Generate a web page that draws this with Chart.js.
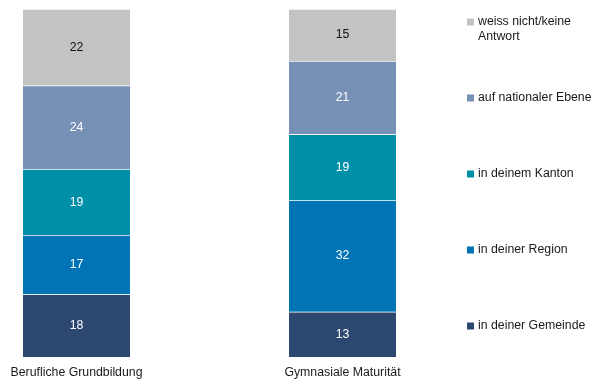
<!DOCTYPE html>
<html lang="de">
<head>
<meta charset="UTF-8">
<title>Ebene</title>
<script src="https://cdn.jsdelivr.net/npm/chart.js@4/dist/chart.umd.min.js"></script>
<style>
  html, body { margin: 0; padding: 0; background: #fff; }
  #wrap { width: 605px; height: 382px; position: relative; }
</style>
</head>
<body>
<div id="wrap"><canvas id="chart"></canvas></div>
<script>
// Kategorien und Werte (in %), von unten nach oben gestapelt
var categories = ['Berufliche Grundbildung', 'Gymnasiale Maturität'];
var seriesNames = [
  'in deiner Gemeinde',
  'in deiner Region',
  'in deinem Kanton',
  'auf nationaler Ebene',
  ['weiss nicht/keine', 'Antwort']
];
var gemeinde = [18, 13];
var region = [17, 32];
var kanton = [19, 19];
var national = [24, 21];
var weissNicht = [22, 15];
var colors = ['#2C4871', '#0074B4', '#008FA8', '#7790B5', '#C3C3C3'];
var labelColors = ['#fff', '#fff', '#fff', '#fff', '#111'];

var font = { family: 'Liberation Sans, Arial, sans-serif', size: 12.3 };

var values = [gemeinde, region, kanton, national, weissNicht];
var datasets = values.map(function (v, i) {
  return {
    label: seriesNames[i],
    data: v,
    backgroundColor: colors[i],
    borderColor: 'rgba(255,255,255,0.35)',
    borderWidth: { top: 1, right: 0, bottom: 0, left: 0 },
    borderSkipped: 'bottom',
    barThickness: 107,
    clip: false
  };
});

// Werte in die Segmente schreiben
var valueLabels = {
  id: 'valueLabels',
  afterDatasetsDraw: function (chart) {
    var ctx = chart.ctx;
    ctx.save();
    ctx.font = font.size + 'px ' + font.family;
    ctx.textAlign = 'center';
    ctx.textBaseline = 'middle';
    chart.data.datasets.forEach(function (ds, i) {
      var meta = chart.getDatasetMeta(i);
      ctx.fillStyle = labelColors[i];
      meta.data.forEach(function (bar, j) {
        ctx.fillText(ds.data[j], bar.x, (bar.y + bar.base) / 2);
      });
    });
    ctx.restore();
  }
};

// Legende rechts, oberste Serie zuerst
var sideLegend = {
  id: 'sideLegend',
  afterDraw: function (chart) {
    var ctx = chart.ctx;
    var x = 467, y0 = 22, step = 76;
    ctx.save();
    ctx.font = font.size + 'px ' + font.family;
    ctx.textAlign = 'left';
    ctx.textBaseline = 'middle';
    var n = chart.data.datasets.length;
    for (var k = 0; k < n; k++) {
      var ds = chart.data.datasets[n - 1 - k];
      var y = y0 + k * step;
      ctx.fillStyle = ds.backgroundColor;
      ctx.fillRect(x, y - 3.5, 7, 7);
      ctx.fillStyle = '#1a1a1a';
      var lines = [].concat(ds.label);
      lines.forEach(function (t, li) {
        ctx.fillText(t, x + 11, y + li * 14.5);
      });
    }
    ctx.restore();
  }
};

new Chart(document.getElementById('chart'), {
  type: 'bar',
  data: { labels: categories, datasets: datasets },
  plugins: [valueLabels, sideLegend],
  options: {
    responsive: true,
    maintainAspectRatio: false,
    animation: false,
    layout: { padding: { left: 76.5, right: 262.5, top: 9, bottom: 0 } },
    plugins: {
      legend: { display: false },
      tooltip: { enabled: false }
    },
    scales: {
      x: {
        stacked: true,
        offset: false,
        grid: { display: false, drawTicks: false },
        border: { display: false },
        ticks: { color: '#1a1a1a', font: font, padding: 8, maxRotation: 0, autoSkip: false },
        afterFit: function (scale) { scale.height = 25; }
      },
      y: {
        stacked: true,
        display: false,
        min: 0,
        max: 100
      }
    }
  }
});
</script>
</body>
</html>
